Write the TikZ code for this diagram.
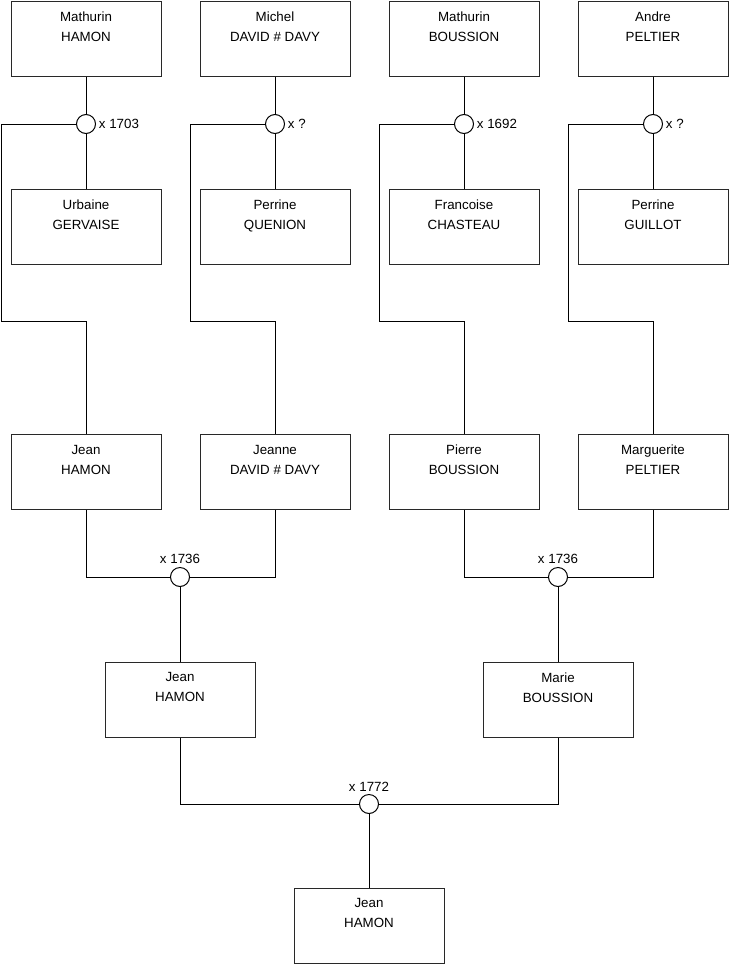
\documentclass[tikz,border=0pt]{standalone}
\usepackage{fontspec}
\setmainfont{Liberation Sans}
\usetikzlibrary{positioning,calc}
\definecolor{GenLine}{RGB}{0,0,0}
\definecolor{GenBorder}{RGB}{40,40,40}
\tikzset{
  gen/box/.style={
    draw=GenBorder,
    line width=0.75pt,
    fill=white,
    minimum width=112.5pt,
    minimum height=56.25pt,
    inner sep=0pt
  },
  gen/name/.style={
    anchor=north,
    align=center,
    font=\fontsize{10}{15}\selectfont,
    inner xsep=2pt,
    inner ysep=8.2pt
  },
  gen/union/.style={circle, draw=GenLine, line width=0.75pt, fill=white, minimum size=14.25pt, inner sep=0pt},
  gen/date/.style={font=\fontsize{10}{12}\selectfont, inner sep=2pt},
  gen/link/.style={draw=GenLine, line width=0.75pt}
}

\begin{document}
\begin{tikzpicture}[x=0.75pt,y=-0.75pt]
  \useasboundingbox (0,0) rectangle (740,975);
  % great-grandparents
  \node[gen/box,label={[gen/name]north:{Mathurin\\HAMON}}] (mhamon) at (86,38.5) {};
  \node[gen/box,label={[gen/name]north:{Michel\\DAVID \# DAVY}}] (mdavy) at (275,38.5) {};
  \node[gen/box,label={[gen/name]north:{Mathurin\\BOUSSION}}] (mboussion) at (464,38.5) {};
  \node[gen/box,label={[gen/name]north:{Andre\\PELTIER}}] (apeltier) at (653,38.5) {};
  \node[gen/box,label={[gen/name]north:{Urbaine\\GERVAISE}}] (ugervaise) at (86,226.5) {};
  \node[gen/box,label={[gen/name]north:{Perrine\\QUENION}}] (pquenion) at (275,226.5) {};
  \node[gen/box,label={[gen/name]north:{Francoise\\CHASTEAU}}] (fchasteau) at (464,226.5) {};
  \node[gen/box,label={[gen/name]north:{Perrine\\GUILLOT}}] (pguillot) at (653,226.5) {};
  \node[gen/union,label={[gen/date]east:x 1703}] (m1) at (86,124) {};
  \node[gen/union,label={[gen/date]east:x ?}] (m2) at (275,124) {};
  \node[gen/union,label={[gen/date]east:x 1692}] (m3) at (464,124) {};
  \node[gen/union,label={[gen/date]east:x ?}] (m4) at (653,124) {};
  % grandparents
  \node[gen/box,label={[gen/name]north:{Jean\\HAMON}}] (jhamon) at (86,472) {};
  \node[gen/box,label={[gen/name]north:{Jeanne\\DAVID \# DAVY}}] (jdavy) at (275,472) {};
  \node[gen/box,label={[gen/name]north:{Pierre\\BOUSSION}}] (pboussion) at (464,472) {};
  \node[gen/box,label={[gen/name]north:{Marguerite\\PELTIER}}] (mpeltier) at (653,472) {};
  \node[gen/union,label={[gen/date]north:x 1736}] (m5) at (180,577) {};
  \node[gen/union,label={[gen/date]north:x 1736}] (m6) at (558,577) {};
  % parents and child
  \node[gen/box,label={[gen/name]north:{Jean\\HAMON}}] (jhamon2) at (180,699.5) {};
  \node[gen/box,label={[gen/name]north:{Marie\\BOUSSION}}] (mboussion2) at (558,699.5) {};
  \node[gen/union,label={[gen/date]north:x 1772}] (m7) at (369,804) {};
  \node[gen/box,label={[gen/name]north:{Jean\\HAMON}}] (jhamon3) at (369,925.5) {};

  \coordinate (k1) at (1,321);
  \coordinate (k2) at (190,321);
  \coordinate (k3) at (379,321);
  \coordinate (k4) at (568,321);

  \draw[gen/link] (mhamon) -- (m1) -- (ugervaise);
  \draw[gen/link] (mdavy) -- (m2) -- (pquenion);
  \draw[gen/link] (mboussion) -- (m3) -- (fchasteau);
  \draw[gen/link] (apeltier) -- (m4) -- (pguillot);
  \draw[gen/link] (m1.west) -| (k1) -| (jhamon.north);
  \draw[gen/link] (m2.west) -| (k2) -| (jdavy.north);
  \draw[gen/link] (m3.west) -| (k3) -| (pboussion.north);
  \draw[gen/link] (m4.west) -| (k4) -| (mpeltier.north);
  \draw[gen/link] (jhamon.south) |- (m5.west);
  \draw[gen/link] (jdavy.south) |- (m5.east);
  \draw[gen/link] (pboussion.south) |- (m6.west);
  \draw[gen/link] (mpeltier.south) |- (m6.east);
  \draw[gen/link] (m5) -- (jhamon2);
  \draw[gen/link] (m6) -- (mboussion2);
  \draw[gen/link] (jhamon2.south) |- (m7.west);
  \draw[gen/link] (mboussion2.south) |- (m7.east);
  \draw[gen/link] (m7) -- (jhamon3);
\end{tikzpicture}
\end{document}
